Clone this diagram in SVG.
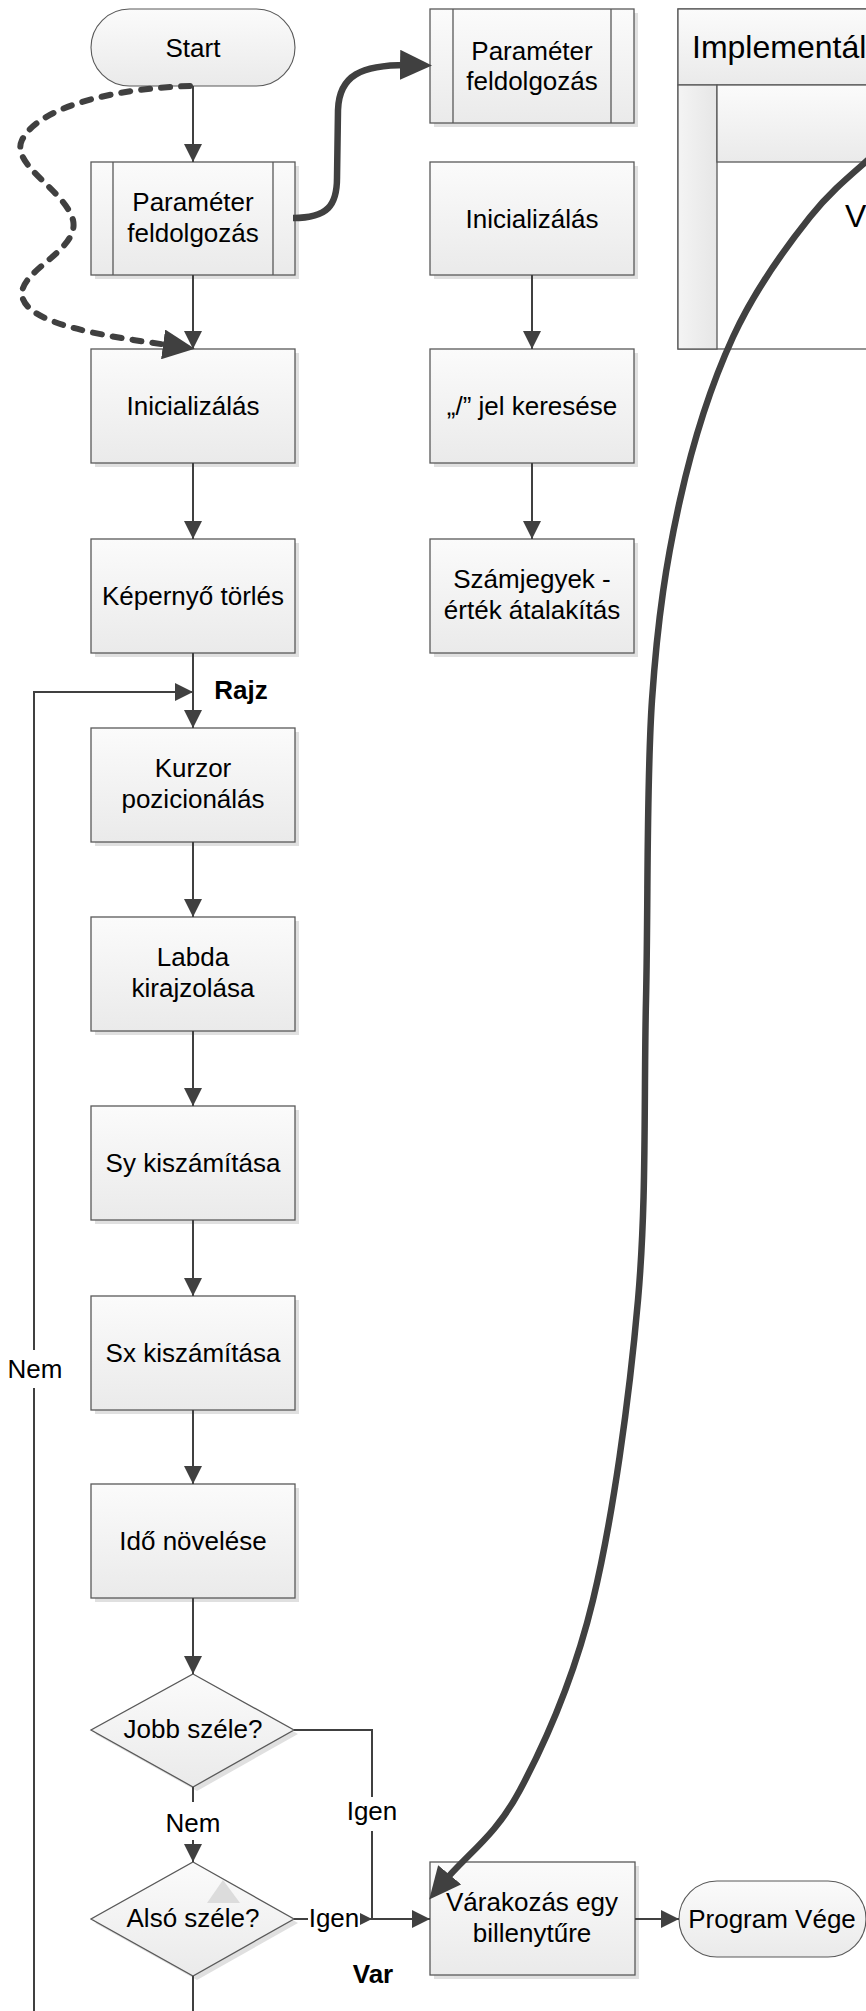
<svg xmlns="http://www.w3.org/2000/svg" width="866" height="2011" viewBox="0 0 866 2011">
<defs>
<linearGradient id="gFill" x1="0" y1="0" x2="0" y2="1"><stop offset="0" stop-color="#fbfbfb"/><stop offset="1" stop-color="#eaeaea"/></linearGradient>
<linearGradient id="gSide" x1="0" y1="0" x2="1" y2="0"><stop offset="0" stop-color="#f4f4f4"/><stop offset="1" stop-color="#e6e6e6"/></linearGradient>
<marker id="arr" markerUnits="userSpaceOnUse" markerWidth="18" markerHeight="18" refX="18" refY="9" orient="auto"><path d="M0,0 L18,9 L0,18 z" fill="#404040"/></marker>
<marker id="arrS" markerUnits="userSpaceOnUse" markerWidth="12" markerHeight="12" refX="12" refY="6" orient="auto"><path d="M0,0 L12,6 L0,12 z" fill="#404040"/></marker>
<marker id="big" markerUnits="userSpaceOnUse" markerWidth="32" markerHeight="30" refX="12" refY="15" orient="auto"><path d="M0,0 L32,15 L0,30 z" fill="#404040"/></marker>
</defs>
<style>
.box{fill:url(#gFill);stroke:#595959;stroke-width:1.3}
.term{fill:url(#gFill);stroke:#595959;stroke-width:1.1}
.sh{fill:#e0e0e0}
.sub{fill:none;stroke:#595959;stroke-width:1.3}
.t{font-family:"Liberation Sans",Arial,sans-serif;font-size:26px;fill:#000;text-anchor:middle}
.b{font-weight:bold}
.c{fill:none;stroke:#404040;stroke-width:2}
.heavy{fill:none;stroke:#404040;stroke-width:6.5}
.dash{fill:none;stroke:#404040;stroke-width:6;stroke-linecap:round;stroke-dasharray:9 11}
</style>
<rect x="0" y="0" width="866" height="2011" fill="#ffffff"/>

<g id="lane">
<rect x="678" y="9" width="220" height="340" fill="#ffffff" stroke="#595959" stroke-width="1.3"/>
<rect x="678" y="9" width="220" height="76" class="box"/>
<rect x="678" y="85" width="39" height="264" fill="url(#gSide)" stroke="#595959" stroke-width="1.3"/>
<rect x="717" y="85" width="181" height="77" class="box"/>
<text x="692" y="58" style="font-family:'Liberation Sans',Arial,sans-serif;font-size:32px;fill:#000">Implementál</text>
<text x="845" y="227" style="font-family:'Liberation Sans',Arial,sans-serif;font-size:32px;fill:#000">V</text>
</g>

<g id="start">
<rect x="91" y="9" width="204" height="77" rx="38.5" class="term"/>
<text x="193" y="57" class="t">Start</text>
</g>

<g id="param1">
<rect x="95" y="166" width="204" height="113" class="sh"/>
<rect x="91" y="162" width="204" height="113" class="box"/>
<path d="M113,162 V275 M273,162 V275" class="sub"/>
<text x="193" y="211" class="t">Paraméter</text>
<text x="193" y="242" class="t">feldolgozás</text>
</g>

<g id="init1">
<rect x="95" y="353" width="204" height="114" class="sh"/>
<rect x="91" y="349" width="204" height="114" class="box"/>
<text x="193" y="415" class="t">Inicializálás</text>
</g>

<g id="screen">
<rect x="95" y="543" width="204" height="114" class="sh"/>
<rect x="91" y="539" width="204" height="114" class="box"/>
<text x="193" y="605" class="t">Képernyő törlés</text>
</g>

<g id="cursor">
<rect x="95" y="732" width="204" height="114" class="sh"/>
<rect x="91" y="728" width="204" height="114" class="box"/>
<text x="193" y="777" class="t">Kurzor</text>
<text x="193" y="808" class="t">pozicionálás</text>
</g>

<g id="ball">
<rect x="95" y="921" width="204" height="114" class="sh"/>
<rect x="91" y="917" width="204" height="114" class="box"/>
<text x="193" y="966" class="t">Labda</text>
<text x="193" y="997" class="t">kirajzolása</text>
</g>

<g id="sy">
<rect x="95" y="1110" width="204" height="114" class="sh"/>
<rect x="91" y="1106" width="204" height="114" class="box"/>
<text x="193" y="1172" class="t">Sy kiszámítása</text>
</g>

<g id="sx">
<rect x="95" y="1300" width="204" height="114" class="sh"/>
<rect x="91" y="1296" width="204" height="114" class="box"/>
<text x="193" y="1362" class="t">Sx kiszámítása</text>
</g>

<g id="time">
<rect x="95" y="1488" width="204" height="114" class="sh"/>
<rect x="91" y="1484" width="204" height="114" class="box"/>
<text x="193" y="1550" class="t">Idő növelése</text>
</g>

<g id="right-edge">
<polygon points="197,1678 298,1734 197,1791 95,1734" class="sh"/>
<polygon points="193,1674 294,1730 193,1787 91,1730" class="box"/>
<text x="193" y="1738" class="t">Jobb széle?</text>
</g>

<g id="bottom-edge">
<polygon points="197,1866 298,1923 197,1980 95,1923" class="sh"/>
<polygon points="193,1862 294,1919 193,1976 91,1919" class="box"/>
<polygon points="207,1903 223,1880 240,1903" fill="#dcdcdc"/>
<text x="193" y="1927" class="t">Alsó széle?</text>
</g>

<g id="wait">
<rect x="434" y="1866" width="205" height="113" class="sh"/>
<rect x="430" y="1862" width="205" height="113" class="box"/>
<text x="532" y="1911" class="t">Várakozás egy</text>
<text x="532" y="1942" class="t">billenytűre</text>
</g>

<g id="end">
<rect x="679" y="1881" width="187" height="76" rx="38" class="term"/>
<text x="772" y="1928" class="t">Program Vége</text>
</g>

<g id="param2">
<rect x="434" y="13" width="204" height="114" class="sh"/>
<rect x="430" y="9" width="204" height="114" class="box"/>
<path d="M453,9 V123 M611,9 V123" class="sub"/>
<text x="532" y="60" class="t">Paraméter</text>
<text x="532" y="90" class="t">feldolgozás</text>
</g>

<g id="init2">
<rect x="434" y="166" width="204" height="113" class="sh"/>
<rect x="430" y="162" width="204" height="113" class="box"/>
<text x="532" y="228" class="t">Inicializálás</text>
</g>

<g id="search">
<rect x="434" y="353" width="204" height="114" class="sh"/>
<rect x="430" y="349" width="204" height="114" class="box"/>
<text x="532" y="415" class="t">„/” jel keresése</text>
</g>

<g id="digits">
<rect x="434" y="543" width="204" height="114" class="sh"/>
<rect x="430" y="539" width="204" height="114" class="box"/>
<text x="532" y="588" class="t">Számjegyek -</text>
<text x="532" y="619" class="t">érték átalakítás</text>
</g>

<g id="connectors">
<path d="M193,86 V162" class="c" marker-end="url(#arr)"/>
<path d="M193,275 V349" class="c" marker-end="url(#arr)"/>
<path d="M193,463 V539" class="c" marker-end="url(#arr)"/>
<path d="M193,653 V728" class="c" marker-end="url(#arr)"/>
<path d="M193,842 V917" class="c" marker-end="url(#arr)"/>
<path d="M193,1031 V1106" class="c" marker-end="url(#arr)"/>
<path d="M193,1220 V1296" class="c" marker-end="url(#arr)"/>
<path d="M193,1410 V1484" class="c" marker-end="url(#arr)"/>
<path d="M193,1598 V1674" class="c" marker-end="url(#arr)"/>
<path d="M193,1787 V1802" class="c"/>
<path d="M193,1840 V1862" class="c" marker-end="url(#arr)"/>
<path d="M294,1730 H372 V1797" class="c"/>
<path d="M372,1831 V1919" class="c"/>
<path d="M294,1919 H308" class="c"/>
<path d="M360,1919 H372" class="c" marker-end="url(#arrS)"/>
<path d="M372,1919 H430" class="c" marker-end="url(#arr)"/>
<path d="M635,1919 H679" class="c" marker-end="url(#arr)"/>
<path d="M193,1976 V2011" class="c"/>
<path d="M34,2011 V1388" class="c"/>
<path d="M34,1350 V692 H193" class="c" marker-end="url(#arr)"/>
<path d="M532,275 V349" class="c" marker-end="url(#arr)"/>
<path d="M532,463 V539" class="c" marker-end="url(#arr)"/>
<path d="M190,86 C120,88 40,105 22,140 C10,165 65,190 73,220 C80,250 20,270 22,295 C25,325 110,337 175,346" class="dash" marker-end="url(#big)"/>
<path d="M293,218 C328,218 337,205 337,178 L338,110 C339,76 360,64 412,65" class="heavy" marker-end="url(#big)"/>
<path d="M890,140 C863.3,165.7 836.2,184.2 810,217 C783.8,249.8 754.7,289.8 733,337 C711.3,384.2 693.5,439.5 680,500 C666.5,560.5 657.7,616.7 652,700 C646.3,783.3 648.3,900 646,1000 C643.7,1100 646.8,1200 638,1300 C629.2,1400 612.7,1518.3 593,1600 C573.3,1681.7 545.2,1742.7 520,1790 C494.8,1837.3 468,1852.7 442,1884" class="heavy" marker-end="url(#big)"/>
</g>

<g id="labels">
<text x="241" y="699" class="t b">Rajz</text>
<text x="35" y="1378" class="t">Nem</text>
<text x="193" y="1832" class="t">Nem</text>
<text x="372" y="1820" class="t">Igen</text>
<text x="334" y="1927" class="t">Igen</text>
<text x="373" y="1983" class="t b">Var</text>
</g>
</svg>
